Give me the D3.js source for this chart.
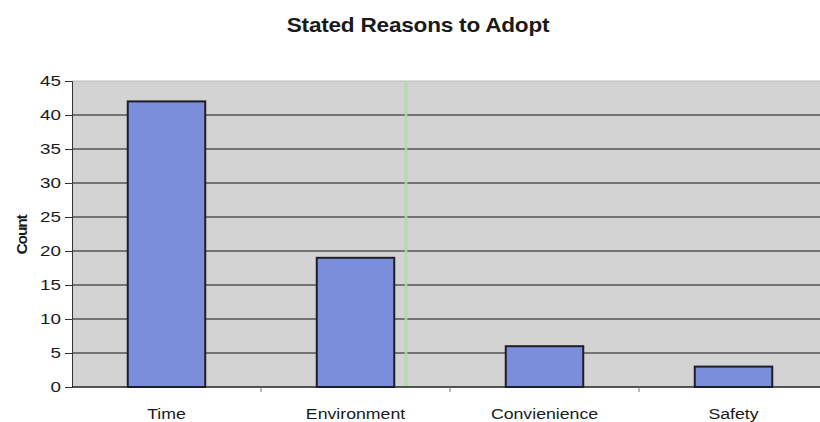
<!DOCTYPE html>
<html>
<head>
<meta charset="utf-8">
<script src="https://cdn.jsdelivr.net/npm/d3@7"></script>
<style>
  html, body { margin: 0; padding: 0; background: #fff; }
  svg { display: block; }
  text { font-family: "Liberation Sans", Arial, sans-serif; fill: #1a1a1a; }
</style>
</head>
<body>
<svg id="chart" width="820" height="422"></svg>
<script>
// Stated reasons to adopt, by count
const categories = ["Time", "Environment", "Convienience", "Safety"];
const counts = [42, 19, 6, 3];
const yTicks = [0, 5, 10, 15, 20, 25, 30, 35, 40, 45];
const chartTitle = "Stated Reasons to Adopt";
const yTitle = "Count";

const svg = d3.select("#chart");
const plot = { left: 72, right: 828, top: 81, bottom: 387 };

const x = d3.scaleBand()
  .domain(categories)
  .range([plot.left, plot.right])
  .paddingInner(0.59)
  .paddingOuter(0.295);

const y = d3.scaleLinear()
  .domain([0, 45])
  .range([plot.bottom, plot.top]);

// grey plot area
svg.append("rect")
  .attr("x", plot.left).attr("y", plot.top)
  .attr("width", plot.right - plot.left).attr("height", plot.bottom - plot.top)
  .attr("fill", "#d3d3d3");

// horizontal gridlines
svg.append("g")
  .selectAll("line")
  .data(yTicks.filter(d => d > 0 && d < 45))
  .join("line")
  .attr("x1", plot.left).attr("x2", plot.right)
  .attr("y1", d => y(d)).attr("y2", d => y(d))
  .attr("stroke", "#161616").attr("stroke-width", 1.2);

// faint top border
svg.append("line")
  .attr("x1", plot.left).attr("x2", plot.right)
  .attr("y1", y(45)).attr("y2", y(45))
  .attr("stroke", "#bbb").attr("stroke-width", 1);

// thin green vertical stripe across the plot
svg.append("line")
  .attr("x1", 406).attr("x2", 406)
  .attr("y1", plot.top).attr("y2", plot.bottom)
  .attr("stroke", "#a8e0a0").attr("stroke-width", 3).attr("opacity", 0.8);

// bars
svg.append("g")
  .selectAll("rect")
  .data(categories.map((c, i) => ({ c, v: counts[i] })))
  .join("rect")
  .attr("x", d => x(d.c))
  .attr("y", d => y(d.v))
  .attr("width", x.bandwidth())
  .attr("height", d => y(0) - y(d.v))
  .attr("fill", "#7b8edc")
  .attr("stroke", "#1e1e24")
  .attr("stroke-width", 2);

// y axis
const yAxis = d3.axisLeft(y).tickValues(yTicks).tickSize(7);
const gy = svg.append("g")
  .attr("transform", `translate(${plot.left},0)`)
  .call(yAxis);
gy.select(".domain").attr("stroke", "#333").attr("stroke-width", 1);
gy.selectAll(".tick line").attr("stroke", "#333");
gy.selectAll(".tick text")
  .attr("x", 0)
  .attr("transform", "translate(-11,0) scale(1.3,1)")
  .attr("font-size", 14.5)
  .attr("fill", "#1a1a1a")
  .attr("font-family", "Liberation Sans, Arial, sans-serif");

// x axis with ticks at category boundaries
const gx = svg.append("g")
  .attr("transform", `translate(0,${plot.bottom})`);
gx.append("line")
  .attr("x1", plot.left).attr("x2", plot.right)
  .attr("y1", 0).attr("y2", 0)
  .attr("stroke", "#222").attr("stroke-width", 1.4);
const step = x.step();
gx.selectAll("line.tk")
  .data(d3.range(1, categories.length))
  .join("line")
  .attr("class", "tk")
  .attr("x1", i => plot.left + i * step).attr("x2", i => plot.left + i * step)
  .attr("y1", 0).attr("y2", 5)
  .attr("stroke", "#777");
gx.selectAll("text")
  .data(categories)
  .join("text")
  .attr("transform", d => `translate(${x(d) + x.bandwidth() / 2},32) scale(1.18,1)`)
  .attr("text-anchor", "middle")
  .attr("font-size", 15)
  .text(d => d);

// y axis title
svg.append("text")
  .attr("transform", `translate(27,235) rotate(-90)`)
  .attr("text-anchor", "middle")
  .attr("font-size", 15.5)
  .attr("font-weight", "bold")
  .style("letter-spacing", "-1.2px")
  .text(yTitle);

// chart title
svg.append("text")
  .attr("transform", "translate(418,32) scale(1.13,1)")
  .attr("text-anchor", "middle")
  .attr("font-size", 20)
  .attr("font-weight", "bold")
  .style("letter-spacing", "-0.2px")
  .text(chartTitle);
</script>
</body>
</html>
